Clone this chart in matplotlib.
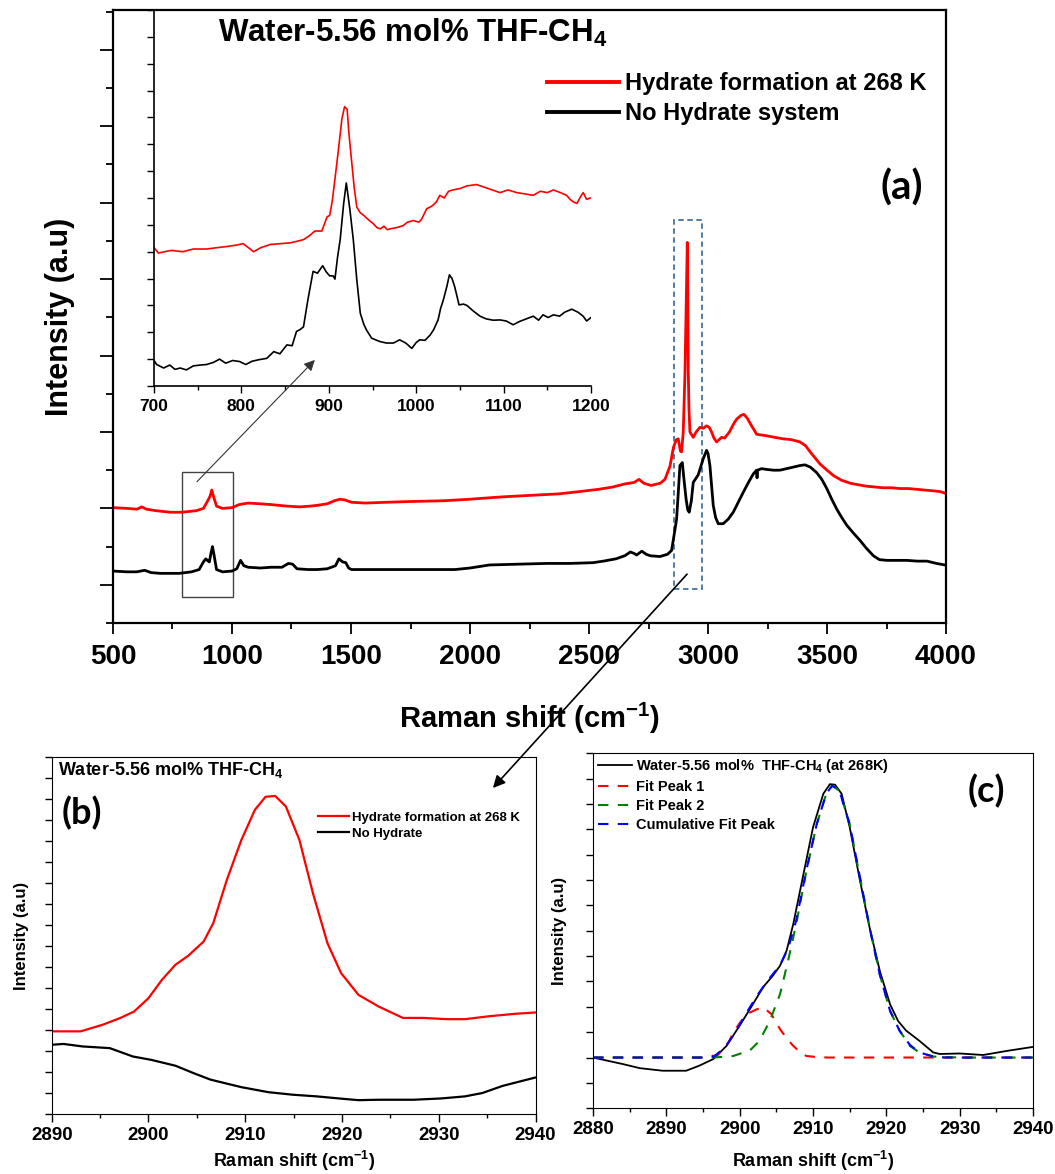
import matplotlib
matplotlib.use("Agg")
import matplotlib.pyplot as plt
from matplotlib.patches import Rectangle
from matplotlib.ticker import MultipleLocator, NullFormatter

plt.rcParams['font.family'] = ['Liberation Sans', 'DejaVu Sans']
plt.rcParams['font.weight'] = 'bold'
plt.rcParams['mathtext.default'] = 'regular'

# ---- panel (a): full spectra (shift in cm-1, intensity in a.u.) ----
a_black_x = [500, 560, 600, 633, 660, 700, 778, 830, 862, 880, 890, 900, 905, 912, 918, 924, 935, 960,
             1000, 1020, 1036, 1050, 1068, 1120, 1164, 1210, 1237, 1255, 1273, 1320, 1357, 1400, 1435,
             1449, 1465, 1478, 1490, 1502, 1600, 1695, 1800, 1937, 2000, 2082, 2200, 2323, 2420, 2517,
             2560, 2613, 2650, 2674, 2690, 2700, 2722, 2740, 2758, 2798, 2830, 2847, 2860, 2868, 2875,
             2882, 2892, 2900, 2908, 2915, 2921, 2930, 2938, 2959, 2980, 2994, 3000, 3008, 3015, 3022,
             3032, 3043, 3064, 3085, 3106, 3127, 3148, 3170, 3190, 3204, 3206, 3208, 3225, 3246, 3275,
             3302, 3330, 3358, 3385, 3407, 3430, 3456, 3478, 3499, 3520, 3541, 3562, 3583, 3610, 3639,
             3665, 3695, 3720, 3751, 3800, 3835, 3880, 3920, 3960, 3995]
a_black_y = [0.18, 0.17, 0.17, 0.19, 0.16, 0.15, 0.15, 0.17, 0.2, 0.3, 0.34, 0.31, 0.3, 0.42, 0.5, 0.4,
             0.2, 0.17, 0.18, 0.21, 0.32, 0.25, 0.23, 0.22, 0.23, 0.23, 0.28, 0.27, 0.21, 0.2, 0.2, 0.21,
             0.25, 0.34, 0.3, 0.29, 0.22, 0.2, 0.2, 0.2, 0.2, 0.2, 0.22, 0.26, 0.27, 0.28, 0.28, 0.29,
             0.31, 0.34, 0.38, 0.43, 0.41, 0.39, 0.44, 0.4, 0.38, 0.37, 0.4, 0.45, 0.7, 0.86, 1.2, 1.56,
             1.6, 1.35, 1.12, 0.98, 0.95, 1.1, 1.34, 1.44, 1.65, 1.76, 1.72, 1.56, 1.3, 1.04, 0.88, 0.8,
             0.8, 0.86, 0.95, 1.08, 1.21, 1.34, 1.45, 1.5, 1.4, 1.5, 1.52, 1.51, 1.5, 1.5, 1.52, 1.54,
             1.56, 1.57, 1.54, 1.47, 1.38, 1.26, 1.12, 0.99, 0.88, 0.78, 0.68, 0.58, 0.48, 0.38, 0.33,
             0.32, 0.32, 0.32, 0.31, 0.31, 0.28, 0.26]
a_red_x = [500, 560, 600, 621, 640, 681, 740, 790, 850, 880, 898, 908, 915, 922, 935, 960, 1000, 1030,
           1068, 1120, 1164, 1230, 1285, 1330, 1357, 1400, 1430, 1454, 1475, 1502, 1560, 1647, 1750,
           1889, 2000, 2130, 2250, 2372, 2460, 2541, 2600, 2650, 2690, 2710, 2730, 2760, 2800, 2819,
           2840, 2855, 2867, 2875, 2884, 2889, 2896, 2903, 2908, 2913, 2915, 2917, 2920, 2924, 2938,
           2950, 2966, 2980, 2994, 3005, 3015, 3025, 3036, 3047, 3057, 3070, 3090, 3110, 3121, 3140,
           3151, 3165, 3183, 3195, 3204, 3225, 3246, 3280, 3316, 3350, 3386, 3410, 3429, 3450, 3471,
           3500, 3527, 3560, 3597, 3630, 3667, 3700, 3736, 3770, 3806, 3840, 3876, 3910, 3946, 3975, 3995]
a_red_y = [1.01, 1.0, 0.99, 1.02, 0.99, 0.97, 0.95, 0.95, 0.97, 1.0, 1.1, 1.16, 1.24, 1.16, 1.03, 1.0,
           1.01, 1.05, 1.07, 1.06, 1.05, 1.03, 1.02, 1.03, 1.04, 1.06, 1.1, 1.12, 1.11, 1.08, 1.07, 1.08,
           1.09, 1.1, 1.12, 1.15, 1.17, 1.19, 1.22, 1.25, 1.28, 1.32, 1.34, 1.38, 1.33, 1.3, 1.33, 1.38,
           1.55, 1.8, 1.9, 1.91, 1.75, 1.74, 2.0, 2.74, 3.6, 4.48, 3.8, 2.8, 2.3, 2.0, 1.93, 2.0, 2.06,
           2.05, 2.08, 2.06, 2.0, 1.92, 1.87, 1.9, 1.93, 1.92, 2.0, 2.12, 2.17, 2.22, 2.23, 2.18, 2.08,
           2.02, 1.97, 1.96, 1.95, 1.93, 1.91, 1.9, 1.87, 1.82, 1.74, 1.66, 1.58, 1.5, 1.43, 1.37, 1.33,
           1.31, 1.29, 1.28, 1.27, 1.27, 1.26, 1.26, 1.25, 1.24, 1.23, 1.22, 1.2]

# ---- inset: 700-1200 cm-1 ----
in_red_x = [700, 705, 712, 720, 733, 745, 760, 772, 785, 795, 802, 808, 814, 822, 833, 845, 856, 865,
            871, 878, 884, 892, 898, 901, 904, 907, 911, 915, 918, 921, 923, 926, 929, 932, 936, 940,
            945, 951, 955, 959, 963, 967, 970, 978, 985, 990, 997, 1003, 1006, 1012, 1018, 1023, 1027,
            1032, 1037, 1042, 1050, 1058, 1069, 1078, 1087, 1096, 1105, 1115, 1125, 1134, 1142, 1150,
            1157, 1165, 1172, 1176, 1180, 1184, 1188, 1191, 1195, 1199]
in_red_y = [5.15, 4.95, 5.0, 5.05, 5.0, 5.1, 5.1, 5.15, 5.2, 5.25, 5.3, 5.15, 5.0, 5.15, 5.27, 5.3,
            5.33, 5.4, 5.45, 5.6, 5.77, 5.77, 6.3, 6.35, 6.9, 7.7, 8.8, 9.95, 10.4, 10.3, 9.4, 8.4, 7.4,
            6.66, 6.45, 6.35, 6.2, 6.04, 5.9, 5.85, 5.95, 5.82, 5.85, 5.9, 5.97, 6.1, 6.16, 6.1, 6.2,
            6.6, 6.7, 6.85, 7.1, 7.0, 7.25, 7.3, 7.35, 7.45, 7.5, 7.4, 7.3, 7.2, 7.3, 7.2, 7.15, 7.1,
            7.25, 7.2, 7.3, 7.2, 7.1, 6.95, 6.85, 6.8, 7.05, 7.2, 6.95, 7.0]
in_black_x = [700, 703, 711, 718, 724, 730, 737, 745, 753, 760, 768, 775, 782, 790, 798, 805, 812, 820,
              829, 837, 844, 852, 858, 863, 867, 871, 876, 882, 887, 893, 897, 901, 905, 907, 910, 913,
              917, 920, 924, 928, 932, 936, 940, 943, 949, 955, 959, 966, 974, 981, 988, 995, 1000, 1004,
              1010, 1016, 1020, 1025, 1028, 1031, 1035, 1038, 1041, 1044, 1049, 1054, 1058, 1065, 1073,
              1080, 1088, 1096, 1103, 1111, 1118, 1126, 1134, 1140, 1145, 1151, 1157, 1164, 1170, 1178,
              1185, 1191, 1195, 1200]
in_black_y = [0.95, 0.8, 0.67, 0.78, 0.62, 0.67, 0.6, 0.75, 0.78, 0.8, 0.88, 1.0, 0.85, 0.95, 0.91, 0.8,
              0.92, 0.98, 1.03, 1.28, 1.2, 1.53, 1.5, 2.03, 2.1, 2.2, 3.2, 4.27, 4.2, 4.48, 4.25, 4.1,
              4.1, 3.98, 4.8, 5.45, 6.8, 7.56, 6.6, 5.45, 3.96, 2.71, 2.3, 2.09, 1.78, 1.7, 1.65, 1.6,
              1.6, 1.72, 1.6, 1.4, 1.62, 1.72, 1.7, 1.9, 2.1, 2.46, 2.9, 3.2, 3.7, 4.14, 4.0, 3.7, 3.02,
              3.05, 3.0, 2.8, 2.6, 2.5, 2.45, 2.46, 2.42, 2.28, 2.4, 2.5, 2.6, 2.45, 2.65, 2.55, 2.65,
              2.6, 2.75, 2.86, 2.75, 2.6, 2.42, 2.55]

# ---- panel (b): C-H region ----
b_red_x = [2890, 2893, 2895.3, 2897.1, 2898.5, 2900, 2901.4, 2902.8, 2904.1, 2905.7, 2906.7, 2908.1,
           2909.6, 2911, 2912.1, 2913.1, 2914.2, 2915.6, 2917, 2918.5, 2919.9, 2921.7, 2923.8, 2926.3,
           2928.4, 2930.9, 2932.7, 2935.2, 2938, 2940]
b_red_y = [1.47, 1.47, 1.63, 1.79, 1.94, 2.26, 2.7, 3.06, 3.27, 3.61, 4.05, 5.08, 6.03, 6.75, 7.06,
           7.08, 6.83, 6.03, 4.76, 3.57, 2.86, 2.34, 2.06, 1.79, 1.79, 1.76, 1.76, 1.83, 1.89, 1.92]
b_black_x = [2890, 2891.2, 2893.2, 2896, 2898.4, 2900.3, 2902.8, 2904.6, 2906.4, 2909.6, 2912.4, 2914.9,
             2917.4, 2920.2, 2921.7, 2923.8, 2927.4, 2930.2, 2932.7, 2934.5, 2936.6, 2938.8, 2940]
b_black_y = [1.15, 1.17, 1.11, 1.07, 0.87, 0.79, 0.65, 0.48, 0.32, 0.14, 0.02, -0.04, -0.08, -0.14,
             -0.17, -0.16, -0.16, -0.13, -0.08, 0.0, 0.17, 0.3, 0.37]

# ---- panel (c): peak fit ----
c_data_x = [2880, 2884.1, 2886.4, 2889.5, 2892.7, 2894.5, 2896.4, 2898.2, 2900, 2901.8, 2903.2, 2904.5,
            2905.5, 2906.4, 2907.3, 2908.6, 2910, 2911.4, 2912.3, 2913, 2913.9, 2915, 2916.4, 2917.7,
            2919.1, 2920.5, 2921.6, 2922.7, 2924.5, 2926.4, 2927.3, 2930, 2933.2, 2936.4, 2940]
c_data_y = [0.0, -0.13, -0.21, -0.26, -0.26, -0.16, -0.03, 0.23, 0.63, 1.05, 1.39, 1.61, 1.81, 2.11,
            2.63, 3.55, 4.54, 5.2, 5.39, 5.38, 5.2, 4.54, 3.49, 2.57, 1.71, 1.05, 0.72, 0.53, 0.33,
            0.1, 0.07, 0.08, 0.05, 0.13, 0.21]
c_fit1_x = [2880, 2895, 2897, 2898.5, 2899.1, 2900, 2901, 2902.3, 2903.2, 2904.3, 2905.5, 2906.4,
            2907.3, 2908.2, 2909.1, 2910.5, 2912, 2940]
c_fit1_y = [0.0, 0.0, 0.05, 0.3, 0.49, 0.68, 0.86, 0.95, 0.99, 0.86, 0.56, 0.38, 0.23, 0.11, 0.03,
            0.01, 0.0, 0.0]
c_fit2_x = [2880, 2896.4, 2899.1, 2901.4, 2902.7, 2904.1, 2905.5, 2906.6, 2907.7, 2909.1, 2910.5,
            2911.8, 2912.6, 2913.6, 2915, 2916.4, 2917.7, 2919.1, 2920.5, 2921.8, 2923.2, 2924.5,
            2926.4, 2930, 2940]
c_fit2_y = [0.0, 0.0, 0.03, 0.14, 0.33, 0.72, 1.25, 1.91, 2.63, 3.68, 4.6, 5.2, 5.36, 5.26, 4.6, 3.55,
            2.57, 1.64, 0.92, 0.53, 0.23, 0.1, 0.02, 0.0, 0.0]
c_cum_x = [2880, 2895, 2896.5, 2898, 2899.5, 2901, 2902.5, 2904, 2905.5, 2906.6, 2907.7, 2909.1,
           2910.5, 2911.8, 2912.6, 2913.6, 2915, 2916.4, 2917.7, 2919.1, 2920.5, 2921.8, 2923.2,
           2924.5, 2926.4, 2928, 2940]
c_cum_y = [0.0, 0.0, 0.02, 0.2, 0.52, 0.9, 1.25, 1.55, 1.82, 2.15, 2.7, 3.7, 4.6, 5.2, 5.36, 5.26, 4.6,
           3.55, 2.57, 1.64, 0.92, 0.53, 0.25, 0.1, 0.02, 0.0, 0.0]

label_font = 'Lato'
dash = (0, (5, 4.5))

fig = plt.figure(figsize=(10.55, 11.74), dpi=100)

# ---------------- main panel (a) ----------------
ax = fig.add_axes([0.1071, 0.4693, 0.7896, 0.5221])
ax.plot(a_red_x, a_red_y, color='red', lw=2.0, label='Hydrate formation at 268 K')
ax.plot(a_black_x, a_black_y, color='black', lw=2.0, label='No Hydrate system')
ax.set_xlim(500, 4000)
ax.set_ylim(-0.5, 7.52)
ax.xaxis.set_major_locator(MultipleLocator(500))
ax.xaxis.set_minor_locator(MultipleLocator(250))
ax.yaxis.set_major_locator(MultipleLocator(1))
ax.yaxis.set_minor_locator(MultipleLocator(0.5))
ax.yaxis.set_major_formatter(NullFormatter())
ax.tick_params(axis='x', which='major', direction='out', length=8, width=1.3, labelsize=20, pad=7)
ax.tick_params(axis='x', which='minor', direction='out', length=4, width=1.3)
ax.tick_params(axis='y', which='major', direction='out', length=9.5, width=1.3)
ax.tick_params(axis='y', which='minor', direction='out', length=5, width=1.3)
for lab in ax.get_xticklabels():
    lab.set_fontweight('bold')
for s in ax.spines.values():
    s.set_linewidth(1.6)
ax.set_xlabel('Raman shift (cm$^{-1}$)', fontsize=21, fontweight='bold', labelpad=22)
ax.set_ylabel('Intensity (a.u)', fontsize=22, fontweight='bold', labelpad=14)

ax.legend(loc='upper left', bbox_to_anchor=(547 / 1055, 1 - 72 / 1174), bbox_transform=fig.transFigure,
          frameon=False, handlelength=3.05, handletextpad=0.25, labelspacing=0.3,
          borderpad=0, borderaxespad=0, prop={'weight': 'bold', 'size': 17})
for ln in ax.get_legend().get_lines():
    ln.set_linewidth(2.8)

fig.text(218 / 1055, 1 - 33 / 1174, 'Water-5.56 mol% THF-CH$_4$', fontsize=22.5, fontweight='bold',
         ha='left', va='center')
fig.text(902 / 1055, 1 - 188 / 1174, '(a)', fontsize=29, fontweight='bold', family=label_font,
         ha='center', va='center')

# boxes marking the zoomed regions
ax.add_patch(Rectangle((792, -0.16), 213, 1.63, fill=False, ec='#444444', lw=1.0))
ax.add_patch(Rectangle((2857, -0.06), 116, 4.84, fill=False, ec='#4472a0', lw=1.3, ls=(0, (3, 2))))

# ---------------- inset ----------------
axi = fig.add_axes([0.146, 0.6712, 0.4142, 0.3203])
axi.patch.set_alpha(0)
axi.plot(in_red_x, in_red_y, color='red', lw=1.2)
axi.plot(in_black_x, in_black_y, color='black', lw=1.2)
axi.set_xlim(700, 1200)
axi.set_ylim(0, 14)
axi.spines['top'].set_visible(False)
axi.spines['right'].set_visible(False)
for s in ('left', 'bottom'):
    axi.spines[s].set_linewidth(1.2)
axi.xaxis.set_major_locator(MultipleLocator(100))
axi.xaxis.set_minor_locator(MultipleLocator(50))
axi.yaxis.set_major_locator(MultipleLocator(1))
axi.yaxis.set_major_formatter(NullFormatter())
axi.tick_params(axis='both', which='major', direction='out', length=5, width=1, labelsize=12.5, pad=4)
axi.tick_params(axis='x', which='minor', direction='out', length=3, width=1)
for lab in axi.get_xticklabels():
    lab.set_fontweight('bold')

axi.annotate('', xy=(884, 0.97), xycoords='data', xytext=(853, 1.35), textcoords=ax.transData,
             arrowprops=dict(arrowstyle='-|>', color='#333333', lw=0.8, mutation_scale=16,
                             shrinkA=0, shrinkB=0), annotation_clip=False)

# ---------------- panel (b) ----------------
axb = fig.add_axes([0.049, 0.0511, 0.4586, 0.3038])
axb.plot(b_red_x, b_red_y, color='red', lw=1.6, label='Hydrate formation at 268 K')
axb.plot(b_black_x, b_black_y, color='black', lw=1.6, label='No Hydrate')
axb.set_xlim(2890, 2940)
axb.set_ylim(-0.5, 8)
axb.xaxis.set_major_locator(MultipleLocator(10))
axb.xaxis.set_minor_locator(MultipleLocator(5))
axb.yaxis.set_major_locator(MultipleLocator(1))
axb.yaxis.set_minor_locator(MultipleLocator(0.5))
axb.yaxis.set_major_formatter(NullFormatter())
axb.tick_params(axis='x', which='major', direction='out', length=6, width=1, labelsize=13.5, pad=3)
axb.tick_params(axis='x', which='minor', direction='out', length=3, width=1)
axb.tick_params(axis='y', which='both', direction='out', length=5, width=1)
for lab in axb.get_xticklabels():
    lab.set_fontweight('bold')
axb.set_xlabel('Raman shift (cm$^{-1}$)', fontsize=13, fontweight='bold', labelpad=4)
axb.set_ylabel('Intensity (a.u)', fontsize=12, fontweight='bold', labelpad=8)
axb.text(0.012, 0.965, 'Water-5.56 mol% THF-CH$_4$', transform=axb.transAxes, fontsize=13,
         fontweight='bold', ha='left', va='center')
axb.text(0.063, 0.845, '(b)', transform=axb.transAxes, fontsize=26, fontweight='bold',
         family=label_font, ha='center', va='center')
axb.legend(loc='upper left', bbox_to_anchor=(0.55, 0.848), frameon=False, handlelength=2.4,
           handletextpad=0.2, labelspacing=0.3, borderpad=0, borderaxespad=0,
           prop={'weight': 'bold', 'size': 9.5})

axb.annotate('', xy=(2935.6, 7.27), xycoords='data', xytext=(2912, 0.14), textcoords=ax.transData,
             arrowprops=dict(arrowstyle='-|>', color='black', lw=1.2, mutation_scale=18,
                             shrinkA=0, shrinkB=0), annotation_clip=False)

# ---------------- panel (c) ----------------
axc = fig.add_axes([0.5621, 0.056, 0.4171, 0.3024])
axc.plot(c_data_x, c_data_y, color='black', lw=1.3, label='Water-5.56 mol%  THF-CH$_4$ (at 268K)')
axc.plot(c_fit1_x, c_fit1_y, color='red', lw=1.5, ls=dash, label='Fit Peak 1')
axc.plot(c_fit2_x, c_fit2_y, color='green', lw=1.5, ls=dash, label='Fit Peak 2')
axc.plot(c_cum_x, c_cum_y, color='blue', lw=1.5, ls=dash, label='Cumulative Fit Peak')
axc.set_xlim(2880, 2940)
axc.set_ylim(-1, 6)
axc.xaxis.set_major_locator(MultipleLocator(10))
axc.xaxis.set_minor_locator(MultipleLocator(5))
axc.yaxis.set_major_locator(MultipleLocator(1))
axc.yaxis.set_minor_locator(MultipleLocator(0.5))
axc.yaxis.set_major_formatter(NullFormatter())
axc.tick_params(axis='x', which='major', direction='out', length=6, width=1, labelsize=13.5, pad=3)
axc.tick_params(axis='x', which='minor', direction='out', length=3, width=1)
axc.tick_params(axis='y', which='both', direction='out', length=5, width=1)
for lab in axc.get_xticklabels():
    lab.set_fontweight('bold')
axc.set_xlabel('Raman shift (cm$^{-1}$)', fontsize=13, fontweight='bold', labelpad=8)
axc.set_ylabel('Intensity (a.u)', fontsize=12, fontweight='bold', labelpad=10)
axc.text(0.895, 0.893, '(c)', transform=axc.transAxes, fontsize=26, fontweight='bold',
         family=label_font, ha='center', va='center')
axc.legend(loc='upper left', bbox_to_anchor=(0.012, 0.99), frameon=False, handlelength=2.3,
           handletextpad=0.3, labelspacing=0.35, borderpad=0, borderaxespad=0,
           prop={'weight': 'bold', 'size': 10.5})

fig.savefig('out.png', dpi=100)
